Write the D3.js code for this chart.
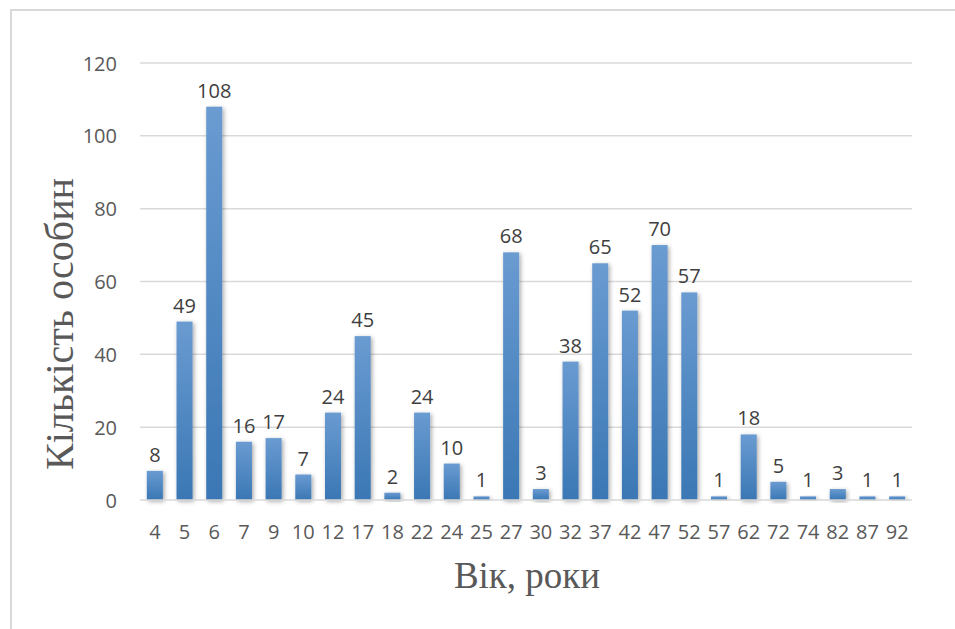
<!DOCTYPE html>
<html>
<head>
<meta charset="utf-8">
<script src="https://cdn.jsdelivr.net/npm/d3@7"></script>
<style>
  html, body { margin: 0; padding: 0; background: #fff; }
  svg { display: block; }
</style>
</head>
<body>
<svg id="chart" width="955" height="629"></svg>
<script>
// Age groups (years) and number of individuals in each
const ages = ["4","5","6","7","9","10","12","17","18","22","24","25","27","30","32","37","42","47","52","57","62","72","74","82","87","92"];
const counts = [8,49,108,16,17,7,24,45,2,24,10,1,68,3,38,65,52,70,57,1,18,5,1,3,1,1];
const yTicks = [0,20,40,60,80,100,120];
const xTitle = "Вік, роки";
const yTitle = "Кількість особин";

const data = ages.map((a, i) => ({ age: a, n: counts[i] }));

const svg = d3.select("#chart");
const W = 955, H = 629;
const plot = { left: 140, right: 912, top: 63, bottom: 500 };

const defs = svg.append("defs");
const grad = defs.append("linearGradient")
  .attr("id", "barFill").attr("x1", 0).attr("y1", 0).attr("x2", 0).attr("y2", 1);
grad.append("stop").attr("offset", "0%").attr("stop-color", "#6a9bd1");
grad.append("stop").attr("offset", "100%").attr("stop-color", "#3a77b4");

const shadow = defs.append("filter").attr("id", "barShadow")
  .attr("x", "-50%").attr("y", "-20%").attr("width", "200%").attr("height", "140%");
shadow.append("feDropShadow")
  .attr("dx", 1.5).attr("dy", 1.5).attr("stdDeviation", 2)
  .attr("flood-color", "#000").attr("flood-opacity", 0.35);

// chart frame
svg.append("rect")
  .attr("x", 11).attr("y", 10).attr("width", W + 20).attr("height", H + 20)
  .attr("fill", "#fff").attr("stroke", "#d9d9d9").attr("stroke-width", 2);

const x = d3.scaleBand()
  .domain(ages)
  .range([plot.left, plot.right])
  .paddingInner(0.46)
  .paddingOuter(0.23);

const y = d3.scaleLinear().domain([0, 120]).range([plot.bottom, plot.top]);

const labelFont = "'Open Sans', sans-serif";

// value axis labels
const yAxis = d3.axisLeft(y).tickValues(yTicks).tickSize(0).tickPadding(0);
const gy = svg.append("g").attr("transform", `translate(${plot.left},0)`).call(yAxis);
gy.select(".domain").remove();
gy.selectAll(".tick line").remove();
gy.selectAll(".tick text")
  .attr("x", -23).attr("dy", "0.35em")
  .attr("text-anchor", "end")
  .attr("fill", "#595959")
  .style("font-family", labelFont)
  .style("font-size", "20px");

// horizontal gridlines
svg.append("g").selectAll("line")
  .data(yTicks.filter(t => t > 0))
  .join("line")
  .attr("x1", plot.left).attr("x2", plot.right)
  .attr("y1", d => y(d)).attr("y2", d => y(d))
  .attr("stroke", "#d9d9d9").attr("stroke-width", 1.5);

// bars
svg.append("g").selectAll("rect")
  .data(data)
  .join("rect")
  .attr("x", d => x(d.age))
  .attr("y", d => y(d.n))
  .attr("width", x.bandwidth())
  .attr("height", d => y(0) - y(d.n))
  .attr("fill", "url(#barFill)")
  .attr("filter", "url(#barShadow)");

// category axis line
svg.append("line")
  .attr("x1", plot.left).attr("x2", plot.right)
  .attr("y1", y(0)).attr("y2", y(0))
  .attr("stroke", "#d9d9d9").attr("stroke-width", 1.5);

// value labels
svg.append("g").selectAll("text")
  .data(data)
  .join("text")
  .attr("x", d => x(d.age) + x.bandwidth() / 2)
  .attr("y", d => y(d.n) - 9)
  .attr("text-anchor", "middle")
  .attr("fill", "#404040")
  .style("font-family", labelFont)
  .style("font-size", "20px")
  .text(d => d.n);

// category labels
const xAxis = d3.axisBottom(x).tickSize(0).tickPadding(0);
const gx = svg.append("g").attr("transform", `translate(0,${plot.bottom})`).call(xAxis);
gx.select(".domain").remove();
gx.selectAll(".tick text")
  .attr("y", 39).attr("dy", 0)
  .attr("fill", "#595959")
  .style("font-family", labelFont)
  .style("font-size", "20px");

// axis titles
svg.append("text")
  .attr("x", 527).attr("y", 588)
  .attr("text-anchor", "middle")
  .attr("fill", "#595959")
  .style("font-family", "'Liberation Serif', 'Times New Roman', serif")
  .style("font-size", "37px")
  .text(xTitle);

svg.append("text")
  .attr("transform", "translate(73,324) rotate(-90)")
  .attr("text-anchor", "middle")
  .attr("fill", "#595959")
  .style("font-family", "'Liberation Serif', 'Times New Roman', serif")
  .style("font-size", "40px")
  .text(yTitle);
</script>
</body>
</html>
